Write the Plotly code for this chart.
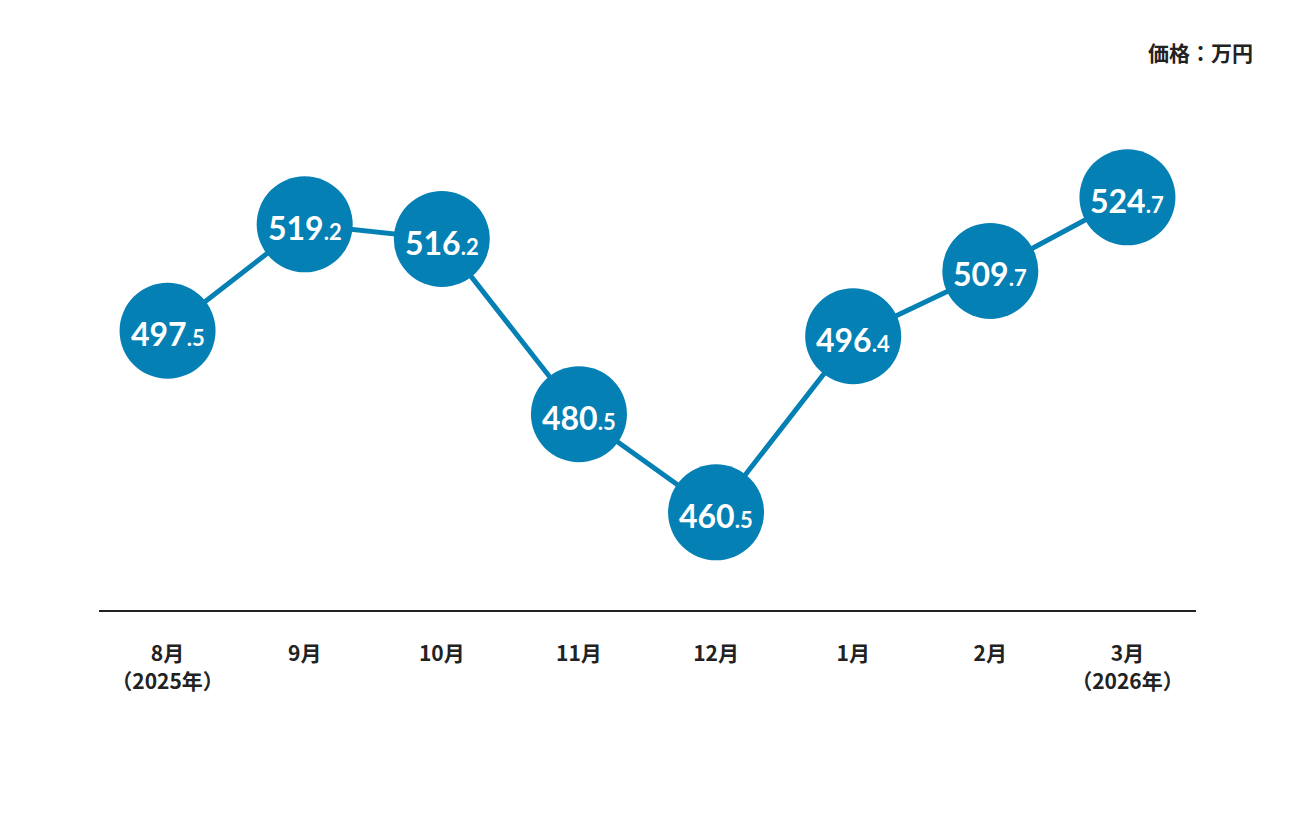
import plotly.graph_objects as go

months = ["8月<br>（2025年）", "9月", "10月", "11月", "12月", "1月", "2月", "3月<br>（2026年）"]
prices = [497.5, 519.2, 516.2, 480.5, 460.5, 496.4, 509.7, 524.7]
unit_label = "価格：万円"

BLUE = "#0580b4"
x_idx = list(range(len(months)))

labels = []
for v in prices:
    s = f"{v:.1f}"
    ip, dp = s.split(".")
    labels.append(f"<b>{ip}</b><b><span style='font-size:22px'>.{dp}</span></b>")

fig = go.Figure()
fig.add_trace(go.Scatter(
    x=x_idx, y=prices,
    mode="lines+markers",
    line=dict(color=BLUE, width=5),
    marker=dict(size=96, color=BLUE, line=dict(width=0)),
    cliponaxis=False,
    hoverinfo="skip",
))

annotations = [dict(
    x=xi, y=v, xref="x", yref="y", text=t, showarrow=False,
    xanchor="center", yanchor="middle", yshift=-3,
    font=dict(family="Lato", size=32, color="white", weight=900),
) for xi, v, t in zip(x_idx, prices, labels)]

annotations.append(dict(
    text=f"<b>{unit_label}</b>",
    xref="paper", yref="paper",
    x=(1255 - 99) / 1097, y=(610 - 52) / 530, xanchor="right", yanchor="middle",
    showarrow=False,
    font=dict(family="Noto Sans CJK JP", size=21, color="#222222"),
))

fig.update_layout(
    width=1296, height=816,
    margin=dict(l=91, r=108, t=72, b=214),
    paper_bgcolor="white", plot_bgcolor="white",
    showlegend=False,
    xaxis=dict(
        range=[-0.5, 7.5],
        tickmode="array", tickvals=x_idx,
        ticktext=[f"<b>{m}</b>" for m in months],
        tickfont=dict(family="Noto Sans CJK JP", size=21, color="#222222"),
        showline=True, linecolor="#222222", linewidth=2,
        showgrid=False, zeroline=False,
        ticks="outside", ticklen=24, tickcolor="rgba(0,0,0,0)",
        fixedrange=True,
    ),
    yaxis=dict(
        range=[440.6, 548.6],
        visible=False, showgrid=False, zeroline=False,
        fixedrange=True,
    ),
    annotations=annotations,
)

fig.write_html("out.html")
